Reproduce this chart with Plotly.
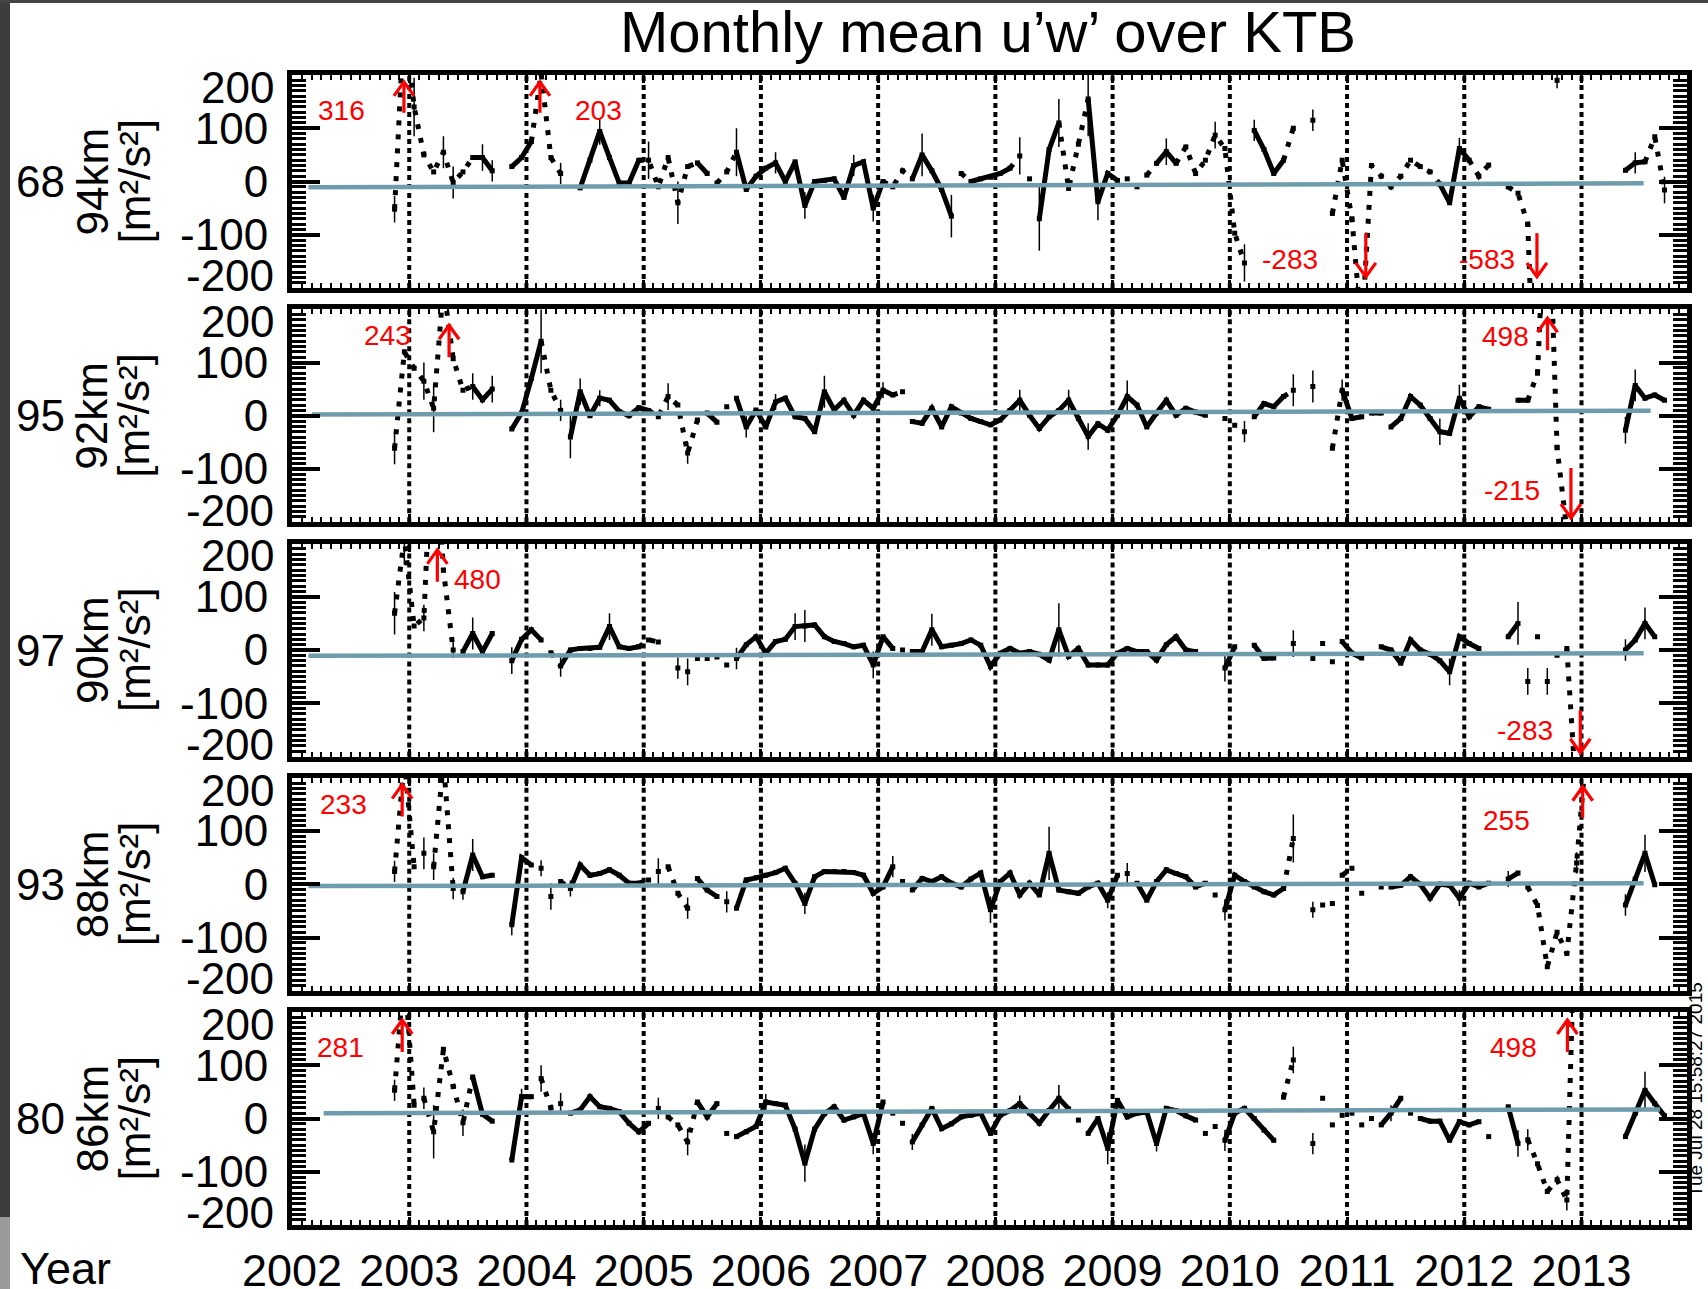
import plotly.graph_objects as go

W, H = 1708, 1289

# ---------------- data ----------------
start_year = 2002
start_month = 11          # first month of the record (Nov 2002)
n_months = 131            # Nov 2002 .. Sep 2013

panel_names = ["68", "95", "97", "93", "80"]
panel_heights = ["94km", "92km", "90km", "88km", "86km"]
unit_text = "[m\u00b2/s\u00b2]"
x_tick_years = list(range(2002, 2014))
year_lines = list(range(2003, 2014))
y_ticks = [-100, 0, 100]
y_tick_text = ["-100", "0", "100"]

# monthly mean u'w' [m^2/s^2], one value per month from Nov 2002 (None = no data)
p1_vals = [-52, 316, 140, 50, 18, 55, -2, 18, 45, 45, 20, None,
           28, 45, 75, 203, 45, 15, None, -12, 40, 94, 45, -3,
           -3, 40, 40, -10, 45, -40, 28, 35, 15, -3, 18, 55,
           -15, 10, 25, 35, 0, 37, -45, 0, 2, 5, -30, 30,
           37, -50, 0, -10, 20, 5, 50, 20, -15, -65, 15, 0,
           5, 8, 15, 25, 48, 5, -70, 60, 110, -13, 70, 155,
           -38, 15, 2, 5, -10, 12, 34, 56, 34, 65, 15, 40,
           87, 62, -97, -153, 96, 60, 15, 40, 100, None, 115, None,
           -60, 40, -70, -283, 30, 10, -10, 10, 40, 28, 18, -5,
           -40, 62, 40, 10, 31, None, -10, -22, -80, -583, None, 190,
           None, None, None, None, None, None, 21, 35, 37, 84, -16]
p2_vals = [-61, 120, 89, 65, 14, 243, 107, 48, 55, 30, 50, None,
           -25, 5, 70, 140, 48, 10, -40, 45, 0, 33, 29, 8,
           0, 15, 10, -2, 36, 20, -70, -8, 5, -12, 17, 33,
           -21, 11, -21, 26, 33, -2, -5, -30, 45, 11, 29, 1,
           29, 14, 48, 39, 45, -11, -14, 14, -21, 17, 5, -5,
           -11, -17, -8, 10, 29, 1, -24, -2, 10, 29, -5, -39,
           -15, -27, 1, 36, 20, -21, 5, 29, 1, 14, 7, 1,
           None, -5, -18, -30, -2, 23, 17, 36, 48, None, 55, None,
           -61, 48, -5, -2, 5, 5, -21, -5, 36, 20, -5, -30,
           -33, 33, -2, 17, 12, None, None, 29, 29, 80, 498, -60,
           -215, None, None, None, None, None, -27, 57, 33, 39, 29]
p3_vals = [69, 210, 45, 60, 480, 150, 0, -3, 31, -3, 31, None,
           -20, 20, 38, 19, -5, -30, 0, 3, 3, 5, 44, 6,
           3, 6, 19, 15, None, -34, -41, -16, -16, -13, -28, -16,
           10, 25, -6, 16, 20, 44, 45, 47, 25, 16, 12, 6,
           9, -28, 25, 3, 0, -3, -3, 38, 6, 9, 12, 19,
           9, -31, -6, 3, -6, -3, -8, -19, 38, -12, 3, -28,
           -28, -28, -6, 3, -3, -3, -19, 10, 25, 0, -3, None,
           None, -34, 6, None, 9, -16, -15, None, 12, None, -16, 12,
           -22, 16, -6, -15, None, 6, 0, -25, 19, 0, -8, -20,
           -41, 25, 12, 3, None, None, 25, 50, -59, 25, -59, -10,
           3, -283, None, None, None, None, 0, 19, 50, 25, None]
p4_vals = [24, 233, 33, 58, 33, 230, -8, -14, 55, 14, 17, None,
           -76, 50, 36, 30, -23, 5, -8, 36, 17, 20, 27, 17,
           2, 2, 8, 24, 33, -17, -45, 11, -11, -23, -33, -45,
           8, 12, 17, 22, 30, 2, -36, 14, 24, 24, 24, 22,
           17, -17, -5, 33, 5, -11, 11, 5, 14, 2, -5, 10,
           21, -48, 5, 21, -20, 2, -20, 58, -11, -14, -17, -5,
           2, -30, 17, 20, 2, -30, 5, 27, 20, 14, -5, 2,
           -20, -48, 17, 5, -5, -14, -20, -8, 86, None, -48, -39,
           -36, 17, 30, -17, None, -5, -5, -2, 14, 0, -26, 0,
           -2, -26, 2, -5, 2, None, 10, 21, -5, -40, -155, -90,
           -130, 40, 255, None, None, None, -39, 10, 58, -1, None]
p5_vals = [53, 281, 25, 38, -25, 130, 60, -8, 78, 8, -5, None,
           -78, 41, 41, 75, 20, 28, 10, 16, 41, 22, 19, 13,
           -9, -25, -9, 19, 3, -12, -44, 31, 3, 28, -28, -34,
           -25, -15, 31, 28, 25, -20, -84, -20, 9, 22, -3, 3,
           9, -47, 31, 10, -9, -44, -12, 19, -19, -10, 3, 6,
           10, -28, 6, 15, 28, 10, -9, 15, 38, 18, -3, -28,
           0, -56, 34, 3, 10, 12, -47, 19, 15, 5, -3, -28,
           -15, -41, 10, 19, 0, -22, -41, 40, 110, None, -47, 38,
           -12, 6, 10, -12, 0, -12, 10, 38, 10, 0, -5, -5,
           -41, -6, -12, -6, -34, None, 22, -47, -40, -85, -137, -115,
           -153, 498, None, None, None, None, -34, 10, 53, 28, 5]

# link from each month to the next: S = solid, D = dotted, N = not joined
p1_link = ("DDDDDDDDSSNN" "SSDDDNNSSSSS" "SDDDDDDSNDDS" "SSSSSSSSSSSS" "SSDDDSSSSNDS"
           "SSSDNNSSDDDS" "SSNNNDSSDDDD" "DDDNSSSDNNNN" "DDDDDDDDDDDS" "SSDDNNDDDNNN" "NNNNNNSSDDN")
p2_link = ("DDDDDDDDSSNN" "SSSDDNSSSSSS" "SSDDDDDDSNNS" "SSSSSSSSSSSS" "SSSDNSSSSSSS"
           "SSSSSSSSSSSS" "SSSSSSSSSSSN" "NNNNSSSDNNNN" "DSSNSNSSSSSS" "SSSSNNNSDDDD" "NNNNNNSSSSN")
p3_link = ("DDDDDDNSSSNN" "SSSNDSSSSSSS" "SDDNNNNNNNNS" "SSSSSSSSSSSS" "SSSNNSSSSSSS"
           "SSSSSSSSSSSS" "SSSSSSSSSSNN" "NSNNSSNNNNNN" "NSSNNSSSSSSS" "SSSNNNSNNNNN" "DNNNNNSSSNN")
p4_link = ("DDNNDDNSSSNN" "SSNNNDSSSSSS" "SDNNDDNSSNNS" "SSSSSSSSSSSS" "SSSNNSSSSSSS"
           "SSSSSSSSSSSS" "SSNNSSSSSSSN" "NSSSSSSDNNNN" "NDNNNNSSSSSS" "SSSSNNSNDDDD" "DDNNNNSSSNN")
p5_link = ("DDNDDDDDSSNN" "SSNDDNSSSSSS" "SSNNDDDSSNNS" "SSSSSSSSSSSS" "SSNNNSSSSSSS"
           "SSSSSSSSSNNS" "SSSSSSSSSSNN" "NSSSSSNDNNNN" "NNNNNSSNNSSS" "SSSNNNSNDDDD" "DNNNNNSSSSN")

# visible error bars: month index -> half length [m^2/s^2]
p1_err = {0: 25, 2: 55, 5: 30, 6: 30, 9: 25, 10: 20, 17: 20, 21: 25, 26: 35, 29: 40, 35: 45,
          39: 20, 42: 25, 47: 20, 49: 25, 54: 40, 57: 40, 64: 35, 66: 60, 68: 45, 71: 70,
          72: 35, 79: 25, 84: 25, 87: 35, 88: 20, 94: 20, 109: 20, 119: 15, 127: 20, 130: 25}
p2_err = {0: 30, 3: 35, 4: 45, 5: 30, 8: 25, 10: 25, 15: 60, 17: 20, 18: 40, 19: 25, 21: 15,
          28: 25, 30: 20, 36: 20, 39: 15, 44: 30, 50: 15, 64: 20, 69: 20, 71: 25, 75: 30,
          87: 20, 92: 30, 94: 30, 97: 20, 107: 25, 109: 25, 126: 25, 127: 30}
p3_err = {0: 40, 1: 50, 3: 25, 6: 15, 8: 30, 12: 25, 17: 20, 22: 25, 29: 20, 30: 25, 35: 20,
          41: 25, 42: 30, 49: 25, 55: 30, 68: 50, 85: 25, 92: 25, 108: 25, 115: 40, 116: 25,
          118: 25, 126: 20, 128: 30}
p4_err = {0: 20, 3: 30, 4: 25, 6: 20, 7: 15, 8: 30, 12: 20, 15: 15, 16: 25, 18: 15, 27: 25,
          30: 20, 34: 20, 42: 20, 51: 20, 61: 25, 67: 50, 73: 15, 75: 20, 85: 20, 92: 45,
          94: 15, 109: 15, 114: 15, 121: 20, 126: 20, 128: 35}
p5_err = {0: 20, 3: 20, 4: 50, 7: 25, 13: 15, 15: 25, 17: 20, 27: 20, 30: 25, 38: 15, 42: 35,
          49: 20, 53: 15, 64: 15, 68: 25, 73: 30, 78: 15, 85: 20, 92: 25, 94: 20, 102: 15,
          115: 25, 116: 20, 120: 20, 128: 35}

# linear trend lines (start/end year and value)
trend_x0 = [2002.14, 2002.17, 2002.14, 2002.14, 2002.27]
trend_x1 = [2013.53, 2013.59, 2013.53, 2013.53, 2013.67]
trend_y0 = [-11, 2.5, -11, -3.5, 10]
trend_y1 = [-3.5, 9.4, -6, 1.7, 17]

# off-scale markers: red arrows (panel, year, head value, tail value)
arrow_panel = [0, 0, 0, 0, 1, 1, 1, 2, 2, 3, 3, 4, 4]
arrow_x = [2002.955, 2004.115, 2011.16, 2012.62, 2003.34, 2012.71, 2012.91,
           2003.24, 2012.99, 2002.94, 2013.01, 2002.94, 2012.88]
arrow_head = [187, 187, -179, -179, 170, 183, -192, 188, -193, 187, 183, 185, 185]
arrow_tail = [129, 129, -97, -97, 110, 123, -98, 128, -113, 127, 125, 125, 125]
# off-scale values written in red (panel, year, value position, text)
label_panel = [0, 0, 0, 0, 1, 1, 1, 2, 2, 3, 3, 4, 4]
label_x = [2002.42, 2004.615, 2010.51, 2012.19, 2002.815, 2012.35, 2012.41,
           2003.58, 2012.52, 2002.44, 2012.36, 2002.41, 2012.42]
label_y = [134, 134, -147, -147, 150, 148, -141, 133, -152, 149, 119, 134, 134]
label_text = ["316", "203", "-283", "-583", "243", "498", "-215",
              "480", "-283", "233", "255", "281", "498"]

title_text = "Monthly mean u\u2019w\u2019 over KTB"
stamp_text = "Tue Jul 28 15:58:27 2015"

all_vals = [p1_vals, p2_vals, p3_vals, p4_vals, p5_vals]
all_link = [p1_link, p2_link, p3_link, p4_link, p5_link]
all_err = [p1_err, p2_err, p3_err, p4_err, p5_err]

# ---------------- month positions (decimal year, mid-month) ----------------
month_x = []
for k in range(n_months):
    m = start_month - 1 + k
    month_x.append(start_year + m // 12 + (m % 12 + 0.5) / 12)

# ---------------- geometry ----------------
FONT = "Liberation Sans, Arial, Helvetica, sans-serif"
X_L, X_R = 292, 1687
X_RANGE = [2002, 2013.9]
panel_top = [75, 309.25, 543.5, 777.75, 1012]
panel_h = 213
px_per_year = (X_R - X_L) / (X_RANGE[1] - X_RANGE[0])
px_per_unit = panel_h / 400.0
HEAD_HALF_W = 10 / px_per_year     # arrow-head half width (years)
HEAD_LEN = 14 / px_per_unit        # arrow-head length (data units)


def runs(vals, link, code):
    xs, ys = [], []
    last = None
    for i in range(len(vals) - 1):
        if link[i] == code and vals[i] is not None and vals[i + 1] is not None:
            if last != i:
                if xs:
                    xs.append(None)
                    ys.append(None)
                xs.append(month_x[i])
                ys.append(vals[i])
            xs.append(month_x[i + 1])
            ys.append(vals[i + 1])
            last = i + 1
    return xs, ys


layout = dict(
    width=W, height=H, autosize=False,
    margin=dict(l=0, r=0, t=0, b=0, pad=0),
    paper_bgcolor="white", plot_bgcolor="white", showlegend=False,
    font=dict(family=FONT, color="black"),
)

fig = go.Figure()
shapes = []
annotations = []

for p in range(5):
    sfx = "" if p == 0 else str(p + 1)
    xa, ya = "x" + sfx, "y" + sfx
    top = panel_top[p]
    dom = [1 - (top + panel_h) / H, 1 - top / H]
    layout["xaxis" + sfx] = dict(
        domain=[X_L / W, X_R / W], range=X_RANGE, anchor=ya, automargin=False,
        showline=True, linewidth=5, linecolor="black", mirror="ticks",
        ticks="inside", ticklen=8, tickwidth=3, tickcolor="black",
        tickmode="array", tickvals=x_tick_years, ticktext=[str(y) for y in x_tick_years],
        showticklabels=(p == 4), tickfont=dict(size=45, family=FONT, color="black"),
        ticklabelstandoff=2,
        minor=dict(tickmode="linear", tick0=2002, dtick=1 / 12, ticks="inside",
                   ticklen=5, tickwidth=2, tickcolor="black", showgrid=False),
        showgrid=False, zeroline=False, fixedrange=True,
    )
    layout["yaxis" + sfx] = dict(
        domain=dom, range=[-200, 200], anchor=xa, automargin=False,
        showline=True, linewidth=5, linecolor="black", mirror="ticks",
        ticks="inside", ticklen=28, tickwidth=4, tickcolor="black",
        tickmode="array", tickvals=y_ticks, ticktext=y_tick_text,
        tickfont=dict(size=44, family=FONT, color="black"),
        ticklabelstandoff=10,
        minor=dict(tickmode="linear", tick0=0, dtick=10, ticks="inside",
                   ticklen=14, tickwidth=2.5, tickcolor="black", showgrid=False),
        showgrid=False, zeroline=False, fixedrange=True,
    )

    # year separators
    for yr in year_lines:
        shapes.append(dict(type="line", xref=xa, yref=ya + " domain", x0=yr, x1=yr, y0=0, y1=1,
                           line=dict(color="black", width=4, dash="5px,4px"), layer="below"))

    vals, link, err = all_vals[p], all_link[p], all_err[p]

    sx, sy = runs(vals, link, "S")
    fig.add_trace(go.Scatter(x=sx, y=sy, mode="lines", xaxis=xa, yaxis=ya,
                             line=dict(color="black", width=5), hoverinfo="skip"))
    dx, dy = runs(vals, link, "D")
    fig.add_trace(go.Scatter(x=dx, y=dy, mode="lines", xaxis=xa, yaxis=ya,
                             line=dict(color="black", width=5, dash="5px,9px"), hoverinfo="skip"))

    px_, py_, pe = [], [], []
    for k in range(n_months):
        if vals[k] is not None:
            px_.append(month_x[k])
            py_.append(vals[k])
            pe.append(err.get(k, 0))
    fig.add_trace(go.Scatter(x=px_, y=py_, mode="markers", xaxis=xa, yaxis=ya,
                             marker=dict(symbol="square", size=5, color="black"),
                             error_y=dict(type="data", array=pe, symmetric=True,
                                          thickness=1.5, width=0, color="black"),
                             hoverinfo="skip"))

    # trend line
    fig.add_trace(go.Scatter(x=[trend_x0[p], trend_x1[p]], y=[trend_y0[p], trend_y1[p]],
                             mode="lines", xaxis=xa, yaxis=ya,
                             line=dict(color="#6e9cad", width=4.5), hoverinfo="skip"))

    # edge tick labels 200 / -200 (drawn inside the panel height like the original)
    for val, pos in (("200", 177), ("-200", -177)):
        annotations.append(dict(text=val, xref="paper", yref=ya, x=276 / W, y=pos,
                                xanchor="right", yanchor="middle", showarrow=False,
                                font=dict(size=44, family=FONT, color="black")))

    # panel labels
    annotations.append(dict(text=panel_names[p], xref="paper", yref=ya, x=14 / W, y=0,
                            xanchor="left", yanchor="middle", showarrow=False,
                            font=dict(size=44, family=FONT, color="black")))
    annotations.append(dict(text=panel_heights[p], xref="paper", yref=ya, x=92 / W, y=0,
                            xanchor="center", yanchor="middle", textangle=-90, showarrow=False,
                            font=dict(size=44, family=FONT, color="black")))
    annotations.append(dict(text=unit_text, xref="paper", yref=ya,
                            x=134 / W, y=0, xanchor="center", yanchor="middle", textangle=-90,
                            showarrow=False, font=dict(size=44, family=FONT, color="black")))

# red off-scale arrows (shaft + open head) and values
for i in range(len(arrow_panel)):
    sfx = "" if arrow_panel[i] == 0 else str(arrow_panel[i] + 1)
    xa, ya = "x" + sfx, "y" + sfx
    x0, yh, yt = arrow_x[i], arrow_head[i], arrow_tail[i]
    back = HEAD_LEN if yh < yt else -HEAD_LEN
    shapes.append(dict(type="line", xref=xa, yref=ya, x0=x0, x1=x0, y0=yt, y1=yh,
                       line=dict(color="red", width=3.2), layer="above"))
    shapes.append(dict(type="path", xref=xa, yref=ya,
                       path="M {a},{b} L {c},{d} L {e},{b}".format(
                           a=x0 - HEAD_HALF_W, b=yh + back, c=x0, d=yh, e=x0 + HEAD_HALF_W),
                       line=dict(color="red", width=3.2), layer="above"))
for i in range(len(label_panel)):
    sfx = "" if label_panel[i] == 0 else str(label_panel[i] + 1)
    annotations.append(dict(text=label_text[i], xref="x" + sfx, yref="y" + sfx,
                            x=label_x[i], y=label_y[i], xanchor="center", yanchor="middle",
                            showarrow=False, font=dict(size=28, family=FONT, color="red")))

# title, axis word, time stamp
annotations.append(dict(text=title_text, xref="paper", yref="paper", x=988 / W, y=1 - 32 / H,
                        xanchor="center", yanchor="middle", showarrow=False,
                        font=dict(size=58, family=FONT, color="black")))
annotations.append(dict(text="Year", xref="paper", yref="paper", x=18 / W, y=1 - 1268 / H,
                        xanchor="left", yanchor="middle", showarrow=False,
                        font=dict(size=45, family=FONT, color="black")))
annotations.append(dict(text=stamp_text, xref="paper", yref="paper", x=1695 / W, y=1 - 1090 / H,
                        xanchor="center", yanchor="middle", textangle=-90, showarrow=False,
                        font=dict(size=19, family=FONT, color="black")))

# window edge strips
shapes.append(dict(type="rect", xref="paper", yref="paper", x0=0, x1=10 / W, y0=1 - 1217 / H, y1=1,
                   fillcolor="#3d3d3d", line=dict(width=0), layer="above"))
shapes.append(dict(type="rect", xref="paper", yref="paper", x0=0, x1=10 / W, y0=0, y1=1 - 1217 / H,
                   fillcolor="#9a9a9a", line=dict(width=0), layer="above"))
shapes.append(dict(type="rect", xref="paper", yref="paper", x0=0, x1=1, y0=1 - 3 / H, y1=1,
                   fillcolor="#444444", line=dict(width=0), layer="above"))

layout["shapes"] = shapes
layout["annotations"] = annotations
fig.update_layout(**layout)

fig.write_html("out.html", include_plotlyjs=True, config={"displayModeBar": False})
